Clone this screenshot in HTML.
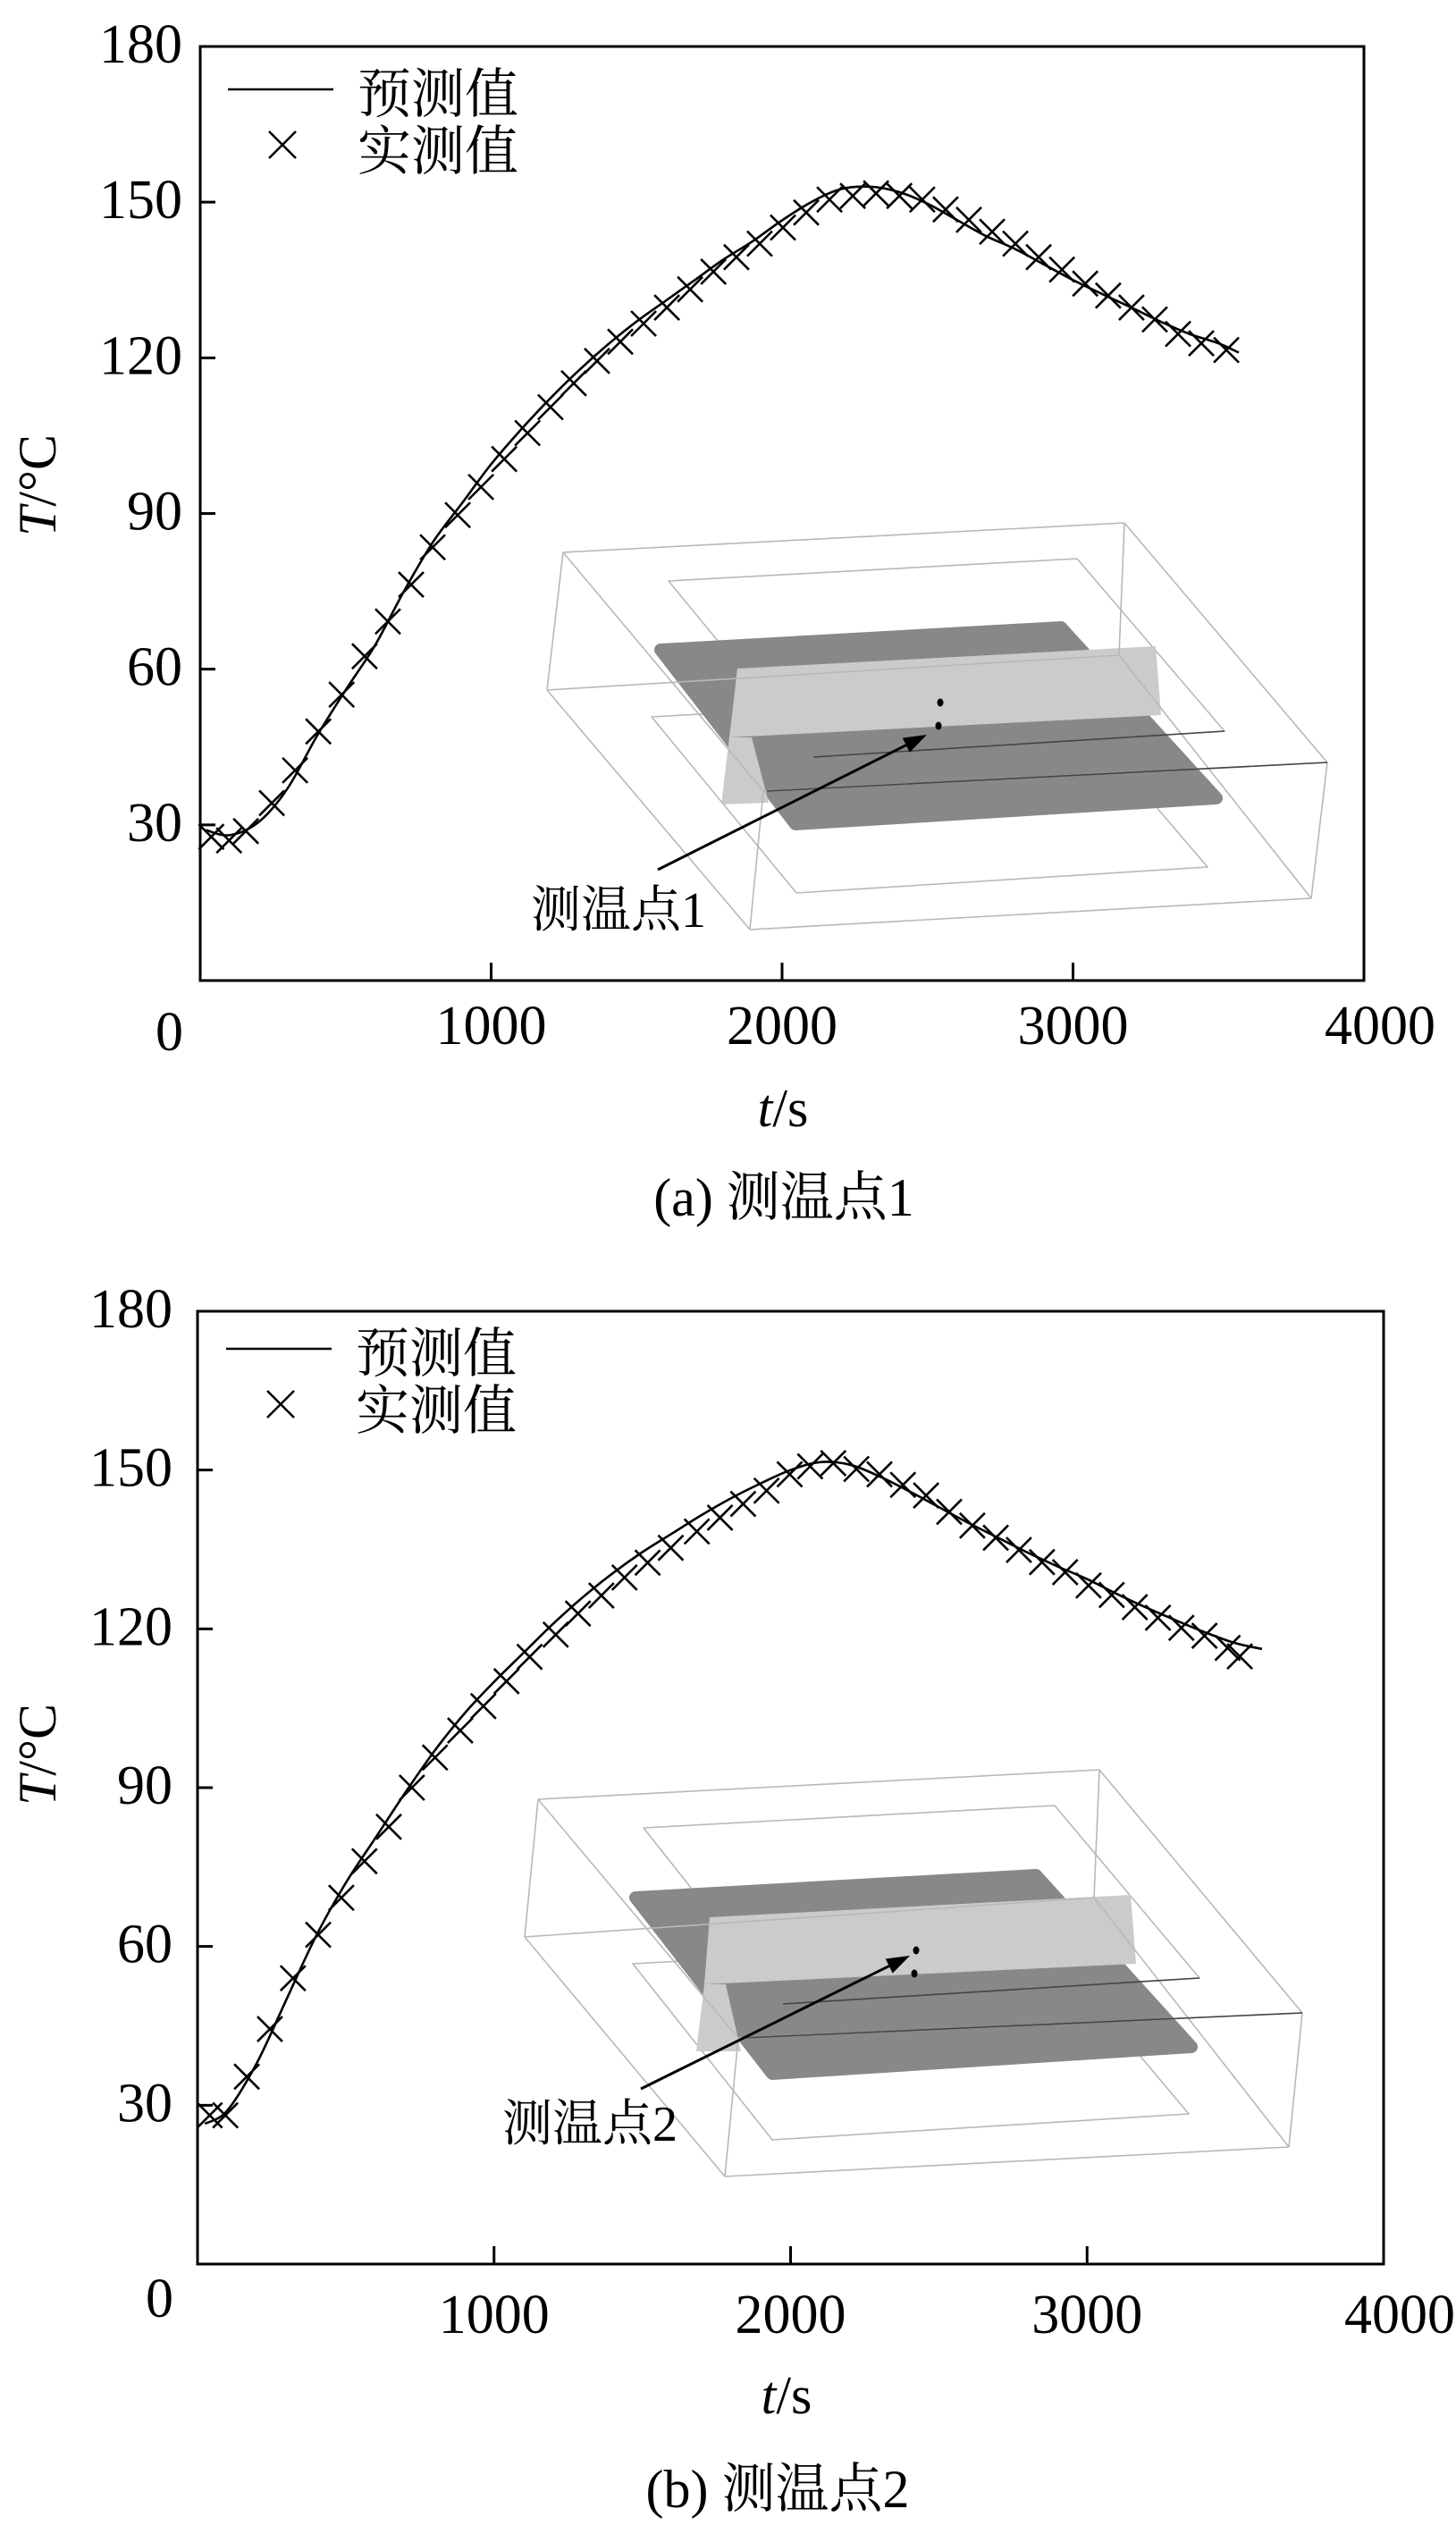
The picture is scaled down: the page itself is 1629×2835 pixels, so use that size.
<!DOCTYPE html>
<html><head><meta charset="utf-8">
<style>
html,body{margin:0;padding:0;background:#fff;}
svg{display:block;}
text{font-family:"Liberation Serif","Noto Serif CJK SC","Noto Sans CJK SC",serif;fill:#000;}
</style></head>
<body>
<svg id="fig" width="1629" height="2835" viewBox="0 0 1629 2835" xmlns="http://www.w3.org/2000/svg">
  <g id="panelA"></g>
  <g id="panelB"></g>
</svg>
<script>
// ---- Panel (a) data ----
const xTicks = [1000, 2000, 3000];
const yTicks = [30, 60, 90, 120, 150];
const xTickLabels = ["0", "1000", "2000", "3000", "4000"];
const yTickLabels = ["0", "30", "60", "90", "120", "150", "180"];

const predTimeA = [20,100,200,300,400,500,600,700,800,900,1000,1100,1200,1300,1400,1500,1600,1700,1800,1900,2000,2100,2200,2300,2400,2500,2600,2700,2800,2900,3000,3100,3200,3300,3400,3500,3570];
const predTempA = [29,28,30.5,37,47,56,64.5,75,84.5,92,99.5,106,112,117.5,122.5,127,131,135,139,142.5,146.5,150,152.5,153,152,149.7,146.6,143.5,141,138,135,132.3,129.7,127,124.6,122.8,121];
const measTimeA = [38,99,157,246,326,406,486,565,645,725,799,885,965,1045,1125,1204,1284,1364,1444,1524,1604,1684,1764,1843,1923,2003,2083,2163,2243,2323,2403,2482,2562,2642,2722,2802,2882,2962,3042,3121,3201,3281,3361,3441,3527];
const measTempA = [27.7,27.0,28.8,34.2,40.5,48.0,55.1,62.5,69.2,76.3,83.5,89.7,95.1,100.5,105.5,110.5,115.1,119.4,123.1,126.6,129.7,133.2,136.6,139.4,142.0,145.1,148.0,150.5,151.2,151.7,151.2,150.5,148.6,146.6,144.3,142.0,139.4,137.0,134.3,132.0,129.7,127.4,124.6,122.8,121.5];

// ---- Panel (b) data ----
const predTimeB = [25,100,200,300,400,500,600,700,800,900,1000,1100,1200,1300,1400,1500,1600,1700,1800,1900,2000,2100,2200,2300,2400,2500,2600,2700,2800,2900,3000,3100,3200,3300,3400,3500,3590];
const predTempB = [26.5,29,38,50,62,72,80.5,89,97,104,110,115.5,121,126,130.5,134.5,138,141.5,144.7,147.5,150,151.5,151,148.8,146,143,140,137.2,134.4,131.8,129.4,126.6,124,121.6,119.3,117.3,116.2];
const measTimeB = [41,94,166,244,322,407,485,563,645,723,801,886,964,1042,1120,1208,1283,1362,1440,1518,1596,1684,1762,1840,1919,1997,2066,2144,2222,2300,2379,2457,2535,2613,2692,2770,2848,2926,3005,3083,3161,3239,3318,3396,3474,3515];
const measTempB = [28.1,28.1,35.4,44.4,54.0,62.2,69.2,76.1,82.6,90.0,95.7,100.8,105.4,110.1,114.7,118.9,122.9,126.3,129.7,132.5,135.3,138.4,141.0,143.6,146.1,149.2,150.7,151.3,150.2,149.2,147.2,145.2,142.1,139.5,137.2,134.9,132.6,130.7,128.2,126.4,124.1,122.1,120.2,118.7,116.4,114.8];

const NS = "http://www.w3.org/2000/svg";
function mk(parent, tag, attrs, txt){
  const e = document.createElementNS(NS, tag);
  for (const k in attrs) e.setAttribute(k, attrs[k]);
  if (txt !== undefined) e.textContent = txt;
  parent.appendChild(e);
  return e;
}
function smoothPath(pts){
  let d = "M" + pts[0][0].toFixed(1) + "," + pts[0][1].toFixed(1);
  for (let i = 0; i < pts.length - 1; i++){
    const p0 = pts[Math.max(0,i-1)], p1 = pts[i], p2 = pts[i+1], p3 = pts[Math.min(pts.length-1,i+2)];
    const c1x = p1[0] + (p2[0]-p0[0])/6, c1y = p1[1] + (p2[1]-p0[1])/6;
    const c2x = p2[0] - (p3[0]-p1[0])/6, c2y = p2[1] - (p3[1]-p1[1])/6;
    d += " C" + c1x.toFixed(1)+","+c1y.toFixed(1)+" "+c2x.toFixed(1)+","+c2y.toFixed(1)+" "+p2[0].toFixed(1)+","+p2[1].toFixed(1);
  }
  return d;
}

function drawPanel(g, cfg){
  const L = cfg.left, R = cfg.right, T = cfg.top, B = cfg.bottom;
  const xs = t => L + (t / 4000) * (R - L);
  const ys = v => B - (v / 180) * (B - T);

  const ins = mk(g, "g", {});
  
  
  const I = cfg.inset;
  const poly = (pts, attrs) => mk(ins, "polygon", Object.assign({points: pts.map(p => p.join(",")).join(" ")}, attrs));
  const line = (a, b, attrs) => mk(ins, "line", Object.assign({x1:a[0], y1:a[1], x2:b[0], y2:b[1]}, attrs));
  const thin = {stroke:"#b8b8b8", "stroke-width":1.6, fill:"none"};
  poly(I.lower, Object.assign({"stroke-linejoin":"round"}, thin));
  poly(I.upper, Object.assign({"stroke-linejoin":"round"}, thin));
  poly(I.plate, {fill:"#888", stroke:"#888", "stroke-width":14, "stroke-linejoin":"round"});
  poly(I.plane, {fill:"#cbcbcb"});
  poly(I.strip, {fill:"#cbcbcb"});
  const [A,Bb,C,D,A2,B2,C2,D2] = I.box;
  [[A,Bb],[Bb,C],[C,D],[D,A],[A,A2],[Bb,B2],[C,C2],[D,D2],[A2,D2],[D2,C2],[C2,B2],[A2,B2]].forEach(e => line(e[0], e[1], thin));
  line(I.dark1[0], I.dark1[1], {stroke:"#444", "stroke-width":1.6});
  line(I.dark2[0], I.dark2[1], {stroke:"#444", "stroke-width":1.6});
  I.dots.forEach(p => mk(ins, "ellipse", {cx:p[0], cy:p[1], rx:3.5, ry:4.5, fill:"#000"}));
  const ar = mk(g, "g", {});
  
  
  const [tx, ty] = I.arrowTail, [hx, hy] = I.arrowTip;
  const ang = Math.atan2(hy - ty, hx - tx);
  const bx = hx - 26*Math.cos(ang), by = hy - 26*Math.sin(ang);
  mk(ar, "line", {x1:tx, y1:ty, x2:bx, y2:by, stroke:"#000", "stroke-width":3});
  const px = -Math.sin(ang)*9, py = Math.cos(ang)*9;
  mk(ar, "polygon", {points:`${hx},${hy} ${bx+px},${by+py} ${bx-px},${by-py}`, fill:"#000"});
  const lab = mk(g, "text", {x:I.label[0], y:I.label[1], "font-size":56}, I.labelText);
  
  

  const frame = mk(g, "rect", {x:L, y:T, width:R-L, height:B-T, fill:"none", stroke:"#000", "stroke-width":3});
  
  

  xTicks.forEach(t => {
    const tk = mk(g, "line", {x1:xs(t), y1:B, x2:xs(t), y2:B-20, stroke:"#000", "stroke-width":3});
    
    
  });
  yTicks.forEach(v => {
    const tk = mk(g, "line", {x1:L, y1:ys(v), x2:L+17, y2:ys(v), stroke:"#000", "stroke-width":3});
    
    
  });
  xTickLabels.forEach((s, i) => {
    const v = i * 1000;
    let x = xs(v), anchor = "middle", y = cfg.xLabBase;
    if (i === 0) { x = cfg.zeroX; anchor = "end"; y = cfg.zeroBase; }
    if (i === 4) { x = x + 18; }
    const tl = mk(g, "text", {x:x, y:y, "font-size":62, "text-anchor":anchor}, s);
    
    
  });
  yTickLabels.forEach((s, i) => {
    if (i === 0) return;
    const v = i * 30;
    const tl = mk(g, "text", {x:cfg.yLabRight, y:ys(v)+18, "font-size":62, "text-anchor":"end"}, s);
    
    
  });
  const yt = mk(g, "text", {x:0, y:0, "font-size":60, "text-anchor":"middle", transform:`translate(${cfg.yTitle[0]},${cfg.yTitle[1]}) rotate(-90)`});
  
  
  mk(yt, "tspan", {"font-style":"italic"}, "T");
  mk(yt, "tspan", {}, "/°C");
  const xt = mk(g, "text", {x:cfg.xTitle[0], y:cfg.xTitle[1], "font-size":60, "text-anchor":"middle"});
  
  
  mk(xt, "tspan", {"font-style":"italic"}, "t");
  mk(xt, "tspan", {}, "/s");
  const cap = mk(g, "text", {x:cfg.caption[0], y:cfg.caption[1], "font-size":60, "text-anchor":"middle"}, cfg.captionText);
  
  

  const pts = cfg.pt.map((t, i) => [xs(t), ys(cfg.pv[i])]);
  const pl = mk(g, "path", {d:smoothPath(pts), fill:"none", stroke:"#000", "stroke-width":2.6});
  
  
  const mg = mk(g, "g", {stroke:"#000", "stroke-width":2.6});
  
  
  cfg.mt.forEach((t, i) => {
    const x = xs(t), y = ys(cfg.mv[i]), h = 14;
    const m = mk(mg, "path", {d:`M${x-h},${y-h}L${x+h},${y+h}M${x-h},${y+h}L${x+h},${y-h}`});
    
    
  });

  const lg = mk(g, "g", {});
  
  
  const [lx, ly] = cfg.legend;
  const e1 = mk(lg, "g", {});
  
  
  mk(e1, "line", {x1:lx, y1:ly, x2:lx+118, y2:ly, stroke:"#000", "stroke-width":2.6});
  mk(e1, "text", {x:lx+145, y:ly+26, "font-size":60}, "预测值");
  const e2 = mk(lg, "g", {});
  
  
  const mx = lx+61, my = ly+62, h = 15;
  mk(e2, "path", {d:`M${mx-h},${my-h}L${mx+h},${my+h}M${mx-h},${my+h}L${mx+h},${my-h}`, stroke:"#000", "stroke-width":2.6});
  mk(e2, "text", {x:lx+145, y:ly+90, "font-size":60}, "实测值");
}

function tr(pts, dx, dy){ return pts.map(p => [p[0]+dx, p[1]+dy]); }

const upperA = [[748,650],[1205,625],[1370,818],[910,847]];
drawPanel(document.getElementById("panelA"), {
  left:224, right:1526, top:52, bottom:1097,
  xLabBase:1168, zeroX:205, zeroBase:1175, yLabRight:204,
  yTitle:[62,543], xTitle:[876,1260], caption:[877,1360], captionText:"(a) 测温点1",
  pt:predTimeA, pv:predTempA, mt:measTimeA, mv:measTempA,
  legend:[255,100],
  inset:{
    box:[[630,618],[1258,585],[1485,853],[854,885],[612,772],[1252,733],[1467,1005],[839,1040]],
    upper:upperA, lower:tr(upperA,-19,152),
    plate:[[739,727],[1187,702],[1361,893],[890,922]],
    plane:[[825,748],[1293,723],[1299,800],[816,825]],
    strip:[[816,825],[807,900],[860,898],[841,825]],
    dark1:[[858,885],[1485,853]], dark2:[[910,847],[1370,818]],
    dots:[[1052,786],[1050,812]],
    arrowTail:[736,973], arrowTip:[1037,822],
    label:[594,1037], labelText:"测温点1"
  }
});

const upperB = [[720,2045],[1180,2020],[1342,2213],[876,2242]];
drawPanel(document.getElementById("panelB"), {
  left:221, right:1548, top:1467, bottom:2533,
  xLabBase:2610, zeroX:194, zeroBase:2592, yLabRight:193,
  yTitle:[62,1963], xTitle:[880,2700], caption:[870,2805], captionText:"(b) 测温点2",
  pt:predTimeB, pv:predTempB, mt:measTimeB, mv:measTempB,
  legend:[253,1509],
  inset:{
    box:[[602,2013],[1230,1980],[1457,2252],[826,2280],[587,2167],[1224,2123],[1442,2402],[811,2435]],
    upper:upperB, lower:tr(upperB,-12,152),
    plate:[[711,2123],[1159,2098],[1333,2290],[864,2320]],
    plane:[[794,2145],[1265,2120],[1271,2197],[788,2220]],
    strip:[[788,2220],[779,2295],[829,2295],[812,2220]],
    dark1:[[830,2280],[1457,2252]], dark2:[[876,2242],[1342,2213]],
    dots:[[1025,2182],[1023,2208]],
    arrowTail:[717,2337], arrowTip:[1018,2188],
    label:[562,2395], labelText:"测温点2"
  }
});
</script>
</body></html>
